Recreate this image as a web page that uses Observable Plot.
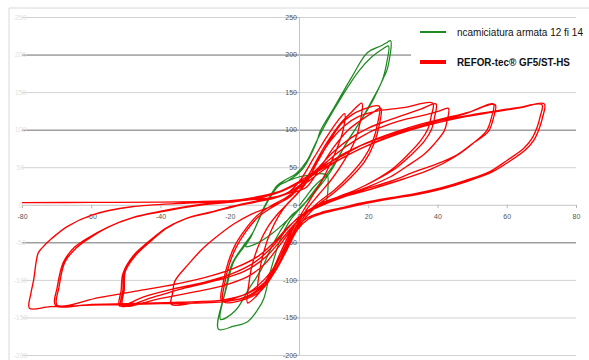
<!DOCTYPE html>
<html>
<head>
<meta charset="utf-8">
<script src="https://cdn.jsdelivr.net/npm/d3@7"></script>
<script src="https://cdn.jsdelivr.net/npm/@observablehq/plot@0.6"></script>
<style>
  html, body { margin: 0; padding: 0; background: #fff; }
  #chart { width: 589px; height: 360px; overflow: hidden; }
  #chart svg { display: block; }
</style>
</head>
<body>
<div id="chart"></div>
<script>
// Axis ticks
const xTicks = [-80, -60, -40, -20, 0, 20, 40, 60, 80];
const yTicks = [-200, -150, -100, -50, 0, 50, 100, 150, 200, 250];
const darkGrid = [200, 100, -50];

// Series labels and colours
const seriesNames = ["ncamiciatura armata 12 fi 14", "REFOR-tec® GF5/ST-HS"];
const seriesColors = ["#1f8a22", "#ff0000"];

// Jacketed column: displacement [mm], force [kN]
const greenStart = [[0,0],[2,12],[4,24],[6,33],[8,40],[6,42],[3,40],[0,38],[-3,33],[-6,26],[-8,14],[-10,-2],[-12,-22],[-14,-42],[-15.5,-55],[-12,-50],[-8,-38],[-4,-22],[0,-4]];
const greenCycle1 = [[4,15],[9,45],[13.8,85],[17.6,112],[21,140],[23.8,165],[25.2,190],[25.7,212],
  [24,208],[21,198],[17,178],[12,143],[8,112],[5,86],[2,58],[-1,42],[-4,34],[-6.5,26],[-8.5,12],[-10.4,-4],[-13.3,-35],[-16,-55],[-19,-75],[-21,-108],[-22.8,-152],
  [-18.5,-140],[-14.7,-112],[-11,-85],[-8,-55],[-5,-30],[-2,-12],[0.5,-3]];
const greenCycle2 = [[4,18],[9,48],[13.5,82],[17.6,112],[21,138],[24.3,170],[25.4,182],[26.3,219],
  [25,216],[23.4,212],[19.6,203],[15,170],[10,130],[6,99],[5,85],[1.2,50],[-0.7,41],[-3.6,32],[-5.5,28],[-8,15],[-10.4,-4],[-13.3,-35],[-16.5,-56],[-19.5,-78],[-21.5,-115],[-23.4,-165],
  [-19,-161],[-15,-155],[-11.8,-137],[-10.3,-124],[-8.4,-88],[-5.5,-45],[-3,-22],[0,-5],[3,10],[5.5,25],[8,41],[8.2,20],[7.8,5]];

// REFOR-tec GF5/ST-HS strengthened column: displacement [mm], force [kN]
const redStart = [[-80,3.5],[-60,3.8],[-40,4.2],[-28,5],[-18,6.5],[-10,9],[-6,12]];
const redCycle1 = [[-3,18],[0,32],[4,62],[8,92],[11,112],[13,122],
  [12.6,100],[10.5,72],[7.5,42],[4.5,18],[1.5,-4],[-1.5,-28],[-4.5,-58],[-7.5,-86],[-10,-103],[-12,-113],
  [-11.6,-90],[-10.2,-60],[-8.3,-35],[-6,-14],[-3.5,2],[-1,14]];
const redCycle2 = [[1,26],[4,52],[8,84],[12,110],[15,124],[18,136],
  [17.6,112],[16,86],[13,60],[9.5,36],[5.5,14],[2,-6],[-1,-28],[-4,-58],[-7,-86],[-10,-106],[-12.5,-121],[-15,-130],
  [-14.6,-104],[-13.7,-80],[-11.5,-50],[-9.3,-30],[-6,-10],[-3,4],[-0.5,16]];
const redCycle3 = [[2,30],[5,56],[9,88],[12,108],[15,120],[18,127],[23,132],
  [22.6,110],[21.2,86],[18.5,62],[14.5,40],[10,20],[5.5,4],[1.5,-14],[-2,-38],[-5,-68],[-8,-95],[-11,-113],[-15,-124],[-22,-128],
  [-21.6,-104],[-20.3,-79],[-18.3,-56],[-15.5,-35],[-12,-16],[-8,-3],[-4,8],[-1,18]];
const redCycle3b = [[2,24],[6,50],[10,78],[14,100],[18,114],[21,123],[23.5,129],
  [23,106],[21.5,82],[18.8,58],[14.8,37],[10.3,18],[5.8,2],[1.8,-16],[-1.8,-40],[-4.8,-68],[-8,-92],[-12,-110],[-17,-121],[-22.5,-127],
  [-22,-102],[-20.6,-76],[-18.6,-53],[-15.8,-33],[-12.3,-14],[-8.3,-1],[-4.3,9],[-1.3,19]];
const redCycle4 = [[1,30],[5,58],[9,86],[13,106],[17,118],[22,125],[30,130],[38.5,136],
  [38,118],[37.2,103],[35,86],[31,66],[27,49],[22,34],[16,20],[10,9],[5,0],[1,-12],[-2,-30],[-5,-58],[-8,-88],[-11,-108],[-15,-121],[-21,-128],[-30,-130],[-37,-132],
  [-36.6,-116],[-36,-101],[-32,-78],[-28,-58],[-24.5,-44],[-19,-25],[-14,-12],[-9,-3],[-5,5],[-2,14]];
const redCycle4b = [[0,26],[5,48],[10,72],[15,90],[20,103],[25,112],[30,120],[35,128],[39.4,135],
  [39,117],[38.2,102],[36,85],[32,66],[28,50],[23,36],[17,22],[11,11],[5.5,1],[1.5,-11],[-2,-30],[-6,-55],[-10,-78],[-15,-95],[-22,-107],[-30,-115],[-40,-124],[-51,-133],
  [-50.6,-112],[-50.3,-88],[-47,-65],[-43,-48],[-38.3,-30],[-32.5,-17],[-24.8,-8],[-19,-1],[-12,6],[-6,12]];
const redCycle4c = [[-2,20],[2,34],[6,50],[11,70],[16,86],[21,99],[26,108],[31,115],[36,120],[40,125],[43,129],
  [42.6,112],[41.8,99],[39,82],[36,68],[31,52],[26.3,38],[20,25],[13,13],[7,3],[2,-10],[-2,-28],[-6,-50],[-10,-70],[-16,-88],[-24,-100],[-33,-110],[-42,-122],[-51.5,-134],
  [-51,-113],[-50.6,-90],[-47.5,-66],[-43.5,-49],[-38.8,-31],[-33,-18],[-25.5,-9],[-19.5,-2],[-12.5,5],[-6.5,11]];
const redCycle5 = [[-2,20],[2,33],[6,48],[11,64],[16,76],[22,88],[28,98],[35,108],[42,116],[49,124],[56,135],
  [55.5,118],[54,99],[50,82],[45,65],[38,48],[30,35],[21,22],[12,10],[5,-3],[0,-15],[-4,-34],[-8,-56],[-13,-76],[-20,-92],[-28,-103],[-37,-112],[-45,-122],[-52,-134],
  [-51.5,-113],[-51,-91],[-48,-67],[-44,-50],[-39,-32],[-33.5,-19],[-26,-10],[-20,-3],[-13,4],[-7,10]];
const redCycle5b = [[-2,18],[2,30],[6,44],[12,62],[18,76],[25,90],[32,101],[40,112],[48,122],[56.5,134],
  [56,116],[54.5,98],[50.5,84],[45.5,67],[40.8,57],[33,44],[26.3,32],[18,20],[12,10],[5,-2],[0.5,-14],[-3.5,-30],[-7.5,-50],[-12,-68],[-19,-84],[-28,-97],[-38,-107],[-48,-115],[-58,-123],[-70,-133],
  [-69.5,-110],[-67.7,-75],[-64.5,-57],[-61.4,-46],[-54.8,-28],[-48,-16],[-40,-8],[-28.7,1],[-18,6],[-10,12]];
const redCycle6 = [[-5,20],[0,32],[6,50],[12,65],[18,80],[25,92],[32,102],[40,112],[48,119],[56,125],[63,130],[70,134],
  [69.5,118],[68.7,105],[67,88],[64.8,76],[60,60],[55,45],[48,33],[40.8,23],[33,15],[26.3,10],[18,3],[11.9,-3.6],[6,-10],[2.2,-17],[-1,-30],[-4,-55],[-7,-80],[-10,-98],[-15,-117],[-22,-126],[-35,-129],[-50,-131],[-60,-132],[-70.5,-133],
  [-70,-110],[-68.2,-76],[-65,-56],[-62,-46],[-55.3,-29],[-48.5,-17],[-40.5,-9],[-29,0],[-18.5,5],[-10.5,11]];
const redCycle6b = [[-5,19],[0,30],[6,47],[12,62],[18,76],[25,89],[32,100],[40,110],[48,118],[56,124],[64,130],[70.7,135],
  [70.2,117],[69.3,103],[67.6,86],[65.3,74],[60.5,58],[55.5,44],[48.5,32],[41.3,22],[33.5,14],[26.8,9],[18.5,2],[12.4,-4.5],[6.5,-11],[2.7,-18],[-0.5,-32],[-3.5,-58],[-6.5,-84],[-9.5,-104],[-14,-120],[-21,-128],[-40,-131],[-60,-133],[-72,-135],[-78,-137],
  [-77.6,-118],[-76.8,-100],[-75.5,-64],[-74.4,-57],[-71.5,-44],[-67,-28],[-60,-13],[-48.5,-2],[-32.5,3],[-20,6],[-11.3,12],[-6,18]];

const toPoints = (pairs) => pairs.map(([x, y]) => ({x, y}));
const greenPath = toPoints([...greenStart, ...greenCycle1, ...greenCycle2]);
const redPath = toPoints([...redStart, ...redCycle1, ...redCycle2, ...redCycle3, ...redCycle3b,
  ...redCycle4, ...redCycle4b, ...redCycle4c, ...redCycle5, ...redCycle5b, ...redCycle6, ...redCycle6b]);

const lightGrid = yTicks.filter(v => !darkGrid.includes(v) && v !== 0);

const chart = Plot.plot({
  width: 589,
  height: 360,
  marginLeft: 22,
  marginRight: 13,
  marginTop: 17,
  marginBottom: 5,
  style: {background: "#fff", fontFamily: "Liberation Sans, Arial, sans-serif", overflow: "visible"},
  x: {domain: [-80, 80], axis: null},
  y: {domain: [-200, 250], axis: null},
  marks: [
    Plot.ruleY(lightGrid, {stroke: "#d2d2d2", strokeWidth: 1}),
    Plot.ruleY(darkGrid, {stroke: "#6e6e6e", strokeWidth: 1}),
    Plot.ruleY([0], {stroke: "#c4c4c4", strokeWidth: 1}),
    Plot.ruleX([0], {stroke: "#c4c4c4", strokeWidth: 1}),
    Plot.ruleX(xTicks, {y1: 0, y2: -4.5, stroke: "#b8b8b8"}),
    Plot.ruleY(yTicks, {x1: -1.6, x2: 0, stroke: "#b8b8b8"}),
    Plot.text(xTicks, {x: d => d, y: 0, dy: 11, text: d => String(d), fontSize: 7, fill: "#555"}),
    Plot.text(yTicks, {x: 0, y: d => d, dx: -2.5, textAnchor: "end", text: d => String(d), fontSize: 7, fill: "#555"}),
    Plot.text(yTicks, {x: -80, y: d => d, dx: -2, textAnchor: "middle", text: d => String(d), fontSize: 7, fill: "#e2e2e2"}),
    Plot.line(greenPath, {x: "x", y: "y", stroke: seriesColors[0], strokeWidth: 1.25, curve: "catmull-rom"}),
    Plot.line(redPath, {x: "x", y: "y", stroke: seriesColors[1], strokeWidth: 1.35, curve: "catmull-rom"})
  ]
});

document.getElementById("chart").appendChild(chart);

// Outer frame and legend drawn over the plot
const svg = d3.select(chart);
svg.append("path").attr("d", "M9,360V8H589").attr("fill", "none").attr("stroke", "#d8d8d8");

const legend = svg.append("g").attr("text-anchor", "start");
legend.append("rect").attr("x", 411).attr("y", 24).attr("width", 178).attr("height", 56).attr("fill", "#fff");
const items = [
  {y: 32, w: 2, tw: 126, weight: "normal", size: 11},
  {y: 62, w: 4, tw: 113, weight: "bold", size: 11.5}
];
items.forEach((it, i) => {
  legend.append("line").attr("x1", 420).attr("x2", 446).attr("y1", it.y).attr("y2", it.y)
    .attr("stroke", seriesColors[i]).attr("stroke-width", it.w);
  // condensed label: horizontally scaled to the legend column width
  const t = legend.append("text").attr("x", 0).attr("y", 0)
    .attr("text-anchor", "start")
    .attr("font-family", "'Liberation Sans Narrow', 'Liberation Sans', Arial, sans-serif")
    .attr("font-size", it.size).attr("font-weight", it.weight).attr("fill", "#111")
    .text(seriesNames[i]);
  const natural = t.node().getComputedTextLength() || it.tw;
  t.attr("transform", `translate(457,${it.y + 4}) scale(${it.tw / natural},1)`);
});
</script>
</body>
</html>
